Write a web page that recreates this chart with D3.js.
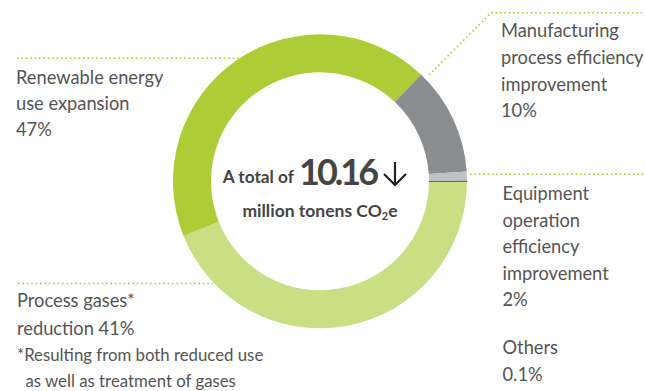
<!DOCTYPE html>
<html>
<head>
<meta charset="utf-8">
<script src="https://cdn.jsdelivr.net/npm/d3@7"></script>
<style>
  body { margin: 0; background: #fff; }
  svg text { font-family: "Lato", "Noto Sans", sans-serif; }
  .lbl { fill: #555; font-size: 18.3px; }
  .note { fill: #555; font-size: 16.8px; }
  .center { fill: #444; font-weight: bold; }
</style>
</head>
<body>
<div id="chart"></div>
<script>
var svgWidth = 645;
var svgHeight = 391;

// slice shares as drawn in the ring (clockwise from 3 o'clock)
var categories = ["Others", "Process gases reduction", "Renewable energy use expansion",
  "Manufacturing process efficiency improvement", "Equipment operation efficiency improvement"];
var values = [0.1, 43.9, 43.1, 11.9, 1.0];
var colors = ["#333333", "#c9df83", "#accd35", "#8a8e90", "#bbc2c9"];

// label texts
var renewableLines = ["Renewable energy", "use expansion", "47%"];
var manufacturingLines = ["Manufacturing", "process efficiency", "improvement", "10%"];
var equipmentLines = ["Equipment", "operation", "efficiency", "improvement", "2%"];
var othersLines = ["Others", "0.1%"];
var gasesLines = ["Process gases*", "reduction 41%"];
var noteLines = ["*Resulting from both reduced use", "as well as treatment of gases"];

var cx = 320, cy = 181.3;
var outerR = 147, innerR = 109;

var svg = d3.select("#chart")
  .append("svg")
  .attr("width", svgWidth)
  .attr("height", svgHeight);

// donut
var halfOthers = values[0] / 100 * Math.PI; // half of the thin slice, in radians
var pie = d3.pie()
  .sort(null)
  .startAngle(Math.PI / 2 - halfOthers)
  .endAngle(Math.PI / 2 - halfOthers + 2 * Math.PI);

var arc = d3.arc().innerRadius(innerR).outerRadius(outerR);

var ring = svg.append("g")
  .attr("transform", `translate(${cx}, ${cy})`);

ring.selectAll("path")
  .data(pie(values))
  .enter()
  .append("path")
  .attr("d", arc)
  .attr("fill", (d, i) => colors[i])
  .attr("stroke", (d, i) => i === 0 ? colors[0] : "none")
  .attr("stroke-width", 0.6);

// dotted leader lines
var dotted = svg.append("g")
  .attr("fill", "none")
  .attr("stroke", "#a9cc34")
  .attr("stroke-width", 1.6)
  .attr("stroke-dasharray", "1.6 2.8");

dotted.append("path").attr("d", "M17,58.3 H239");
dotted.append("path").attr("d", "M18,283.5 H214");
dotted.append("path").attr("d", "M470,174.3 H645");
dotted.append("path").attr("d", "M429,75 L491,12.7 H645");

// side labels
function block(x, y0, step, lines, cls) {
  svg.append("g").selectAll("text")
    .data(lines)
    .enter()
    .append("text")
    .attr("class", cls)
    .attr("x", x)
    .attr("y", (d, i) => y0 + i * step)
    .text(d => d);
}

block(16, 84.3, 26, renewableLines, "lbl");
block(501, 37.3, 26.7, manufacturingLines, "lbl");
block(502.5, 200, 26.6, equipmentLines, "lbl");
block(502.5, 354, 26.7, othersLines, "lbl");
block(17, 307.3, 27.5, gasesLines, "lbl");

svg.append("text").attr("class", "note").attr("x", 17).attr("y", 360.7).text(noteLines[0]);
svg.append("text").attr("class", "note").attr("x", 25.5).attr("y", 386.7).text(noteLines[1]);

// centre text
svg.append("text")
  .attr("class", "center")
  .attr("x", 294).attr("y", 182.7)
  .attr("text-anchor", "end")
  .style("font-size", "17.3px")
  .text("A total of");

svg.append("text")
  .attr("class", "center")
  .attr("x", 299).attr("y", 185)
  .style("font-size", "36px")
  .style("letter-spacing", "-3px")
  .text("10.16");

svg.append("path")
  .attr("d", "M395,162 V185 M384,174 L395,185 L406,174")
  .attr("fill", "none")
  .attr("stroke", "#222")
  .attr("stroke-width", 2.2);

var unit = svg.append("text")
  .attr("class", "center")
  .attr("x", 320).attr("y", 216.7)
  .attr("text-anchor", "middle")
  .style("font-size", "17.5px");
unit.append("tspan").text("million tonens CO");
unit.append("tspan").attr("dy", 3).style("font-size", "11px").text("2");
unit.append("tspan").attr("dy", -3).text("e");
</script>
</body>
</html>
